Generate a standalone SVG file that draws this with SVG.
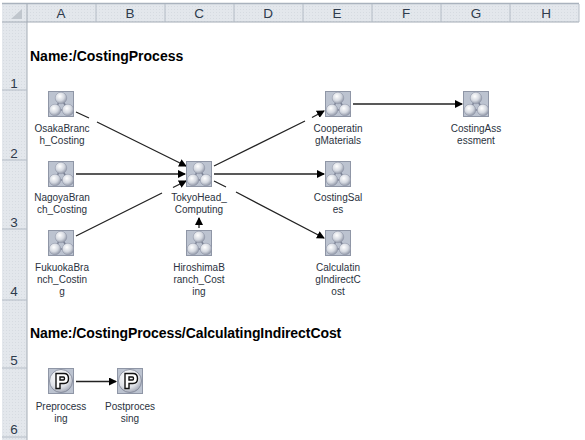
<svg xmlns="http://www.w3.org/2000/svg" width="585" height="440" viewBox="0 0 585 440">
<style>
text{font-family:"Liberation Sans",Arial,sans-serif}
.h{font-size:13.5px;fill:#2e3b4c;text-anchor:middle}
.l{font-size:10px;fill:#2a3240;text-anchor:middle}
.t{font-size:14px;font-weight:bold;fill:#000}
.c{stroke:#222;stroke-width:1.3;fill:none}
.g{stroke:#b4bcc6;stroke-width:1;fill:none}
</style>
<defs>
<radialGradient id="ball" cx="0.4" cy="0.35" r="0.7"><stop offset="0" stop-color="#fff"/><stop offset="0.55" stop-color="#d4d8e0"/><stop offset="1" stop-color="#868d9e"/></radialGradient>
<radialGradient id="disc" cx="0.4" cy="0.3" r="0.8"><stop offset="0" stop-color="#fff"/><stop offset="0.6" stop-color="#dfe2e8"/><stop offset="1" stop-color="#8f95a5"/></radialGradient>
<pattern id="hatch" width="3" height="3" patternUnits="userSpaceOnUse"><rect width="3" height="3" fill="#e3e7ec"/><rect width="1" height="1" fill="#d6dbe1"/></pattern>
<marker id="arr" markerWidth="8" markerHeight="8" refX="7" refY="4" orient="auto" markerUnits="userSpaceOnUse"><path d="M0 0L8 4L0 8Z" fill="#000"/></marker>
<symbol id="proc" width="26" height="26" viewBox="0 0 26 26">
<rect x="0.5" y="0.5" width="25" height="25" fill="#bcc3d0" stroke="#8f96a6"/>
<path d="M13 7L7 19H20Z" fill="none" stroke="#7d8496" stroke-width="1.6"/>
<circle cx="13" cy="7" r="5.8" fill="url(#ball)" stroke="#8c93a4" stroke-width="0.5"/>
<circle cx="7" cy="19" r="5.8" fill="url(#ball)" stroke="#8c93a4" stroke-width="0.5"/>
<circle cx="20" cy="19" r="5.8" fill="url(#ball)" stroke="#8c93a4" stroke-width="0.5"/>
</symbol>
<symbol id="pnode" width="26" height="26" viewBox="0 0 26 26">
<rect x="0.5" y="0.5" width="25" height="25" fill="#bcc3d0" stroke="#8f96a6"/>
<circle cx="13" cy="13" r="11.5" fill="url(#disc)" stroke="#7d8496" stroke-width="0.8"/>
<path d="M8 5.500H16Q20.500 5.500 20.500 10.500Q20.500 15.500 16 15.500H12V20.500H8Z M12 9V12H15.500Q16.500 12 16.500 10.500Q16.500 9 15.500 9Z" fill="#fff" fill-rule="evenodd" stroke="#111" stroke-width="1.4"/>
</symbol>
</defs>
<rect width="585" height="440" fill="#fff"/>
<g id="sheet-frame">
<rect x="2" y="4" width="577" height="18" fill="url(#hatch)"/>
<rect x="2" y="22" width="25" height="418" fill="url(#hatch)"/>
<path d="M2 3.500H579" stroke="#a9b2bd" stroke-width="1.5"/>
<path d="M2 22H579" stroke="#a3abb5"/>
<path d="M27 4V440" stroke="#a3abb5"/>
<path d="M22 19H11L22 9Z" fill="#c0c6cd"/>
<path class="g" d="M96 4V22M165 4V22M234 4V22M303 4V22M372 4V22M441 4V22M510 4V22M579 4V22"/>
<path class="g" d="M2 90H27M2 160H27M2 229H27M2 300H27M2 368H27M2 437H27"/>
<text class="h" x="61" y="18">A</text><text class="h" x="130" y="18">B</text><text class="h" x="199" y="18">C</text><text class="h" x="268" y="18">D</text><text class="h" x="337" y="18">E</text><text class="h" x="406" y="18">F</text><text class="h" x="476" y="18">G</text><text class="h" x="546" y="18">H</text>
<text class="h" x="14" y="88">1</text><text class="h" x="14" y="158">2</text><text class="h" x="14" y="227">3</text><text class="h" x="14" y="296">4</text><text class="h" x="14" y="365">5</text><text class="h" x="14" y="434">6</text>
</g>
<g id="titles">
<text class="t" x="30" y="61">Name:/CostingProcess</text>
<text class="t" x="30" y="338" letter-spacing="-0.07">Name:/CostingProcess/CalculatingIndirectCost</text>
</g>
<g id="connectors">
<path class="c" d="M76 112L89 118M97 122L186 166" marker-end="url(#arr)"/>
<path class="c" d="M76 174H185" marker-end="url(#arr)"/>
<path class="c" d="M76 236L162 193M173 187.500L186 181" marker-end="url(#arr)"/>
<path class="c" d="M199 228V218" marker-end="url(#arr)"/>
<path class="c" d="M214 166L305 121M312 117.500L324 111" marker-end="url(#arr)"/>
<path class="c" d="M214 174H324" marker-end="url(#arr)"/>
<path class="c" d="M214 181L226 187M236 192L324 238" marker-end="url(#arr)"/>
<path class="c" d="M353 104H462" marker-end="url(#arr)"/>
<path class="c" d="M76 381.500H116" marker-end="url(#arr)"/>
</g>
<g id="OsakaBranch_Costing"><use href="#proc" x="48" y="91"/><text class="l" x="62" y="132">OsakaBranc</text><text class="l" x="62" y="144">h_Costing</text></g>
<g id="NagoyaBranch_Costing"><use href="#proc" x="48" y="161"/><text class="l" x="62" y="201">NagoyaBran</text><text class="l" x="62" y="213">ch_Costing</text></g>
<g id="FukuokaBranch_Costing"><use href="#proc" x="48" y="230"/><text class="l" x="62" y="271">FukuokaBra</text><text class="l" x="62" y="283">nch_Costin</text><text class="l" x="62" y="295">g</text></g>
<g id="TokyoHead_Computing"><use href="#proc" x="186" y="161"/><text class="l" x="199" y="201">TokyoHead_</text><text class="l" x="199" y="213">Computing</text></g>
<g id="HiroshimaBranch_Costing"><use href="#proc" x="186" y="230"/><text class="l" x="199" y="271">HiroshimaB</text><text class="l" x="199" y="283">ranch_Cost</text><text class="l" x="199" y="295">ing</text></g>
<g id="CooperatingMaterials"><use href="#proc" x="325" y="91"/><text class="l" x="338" y="132">Cooperatin</text><text class="l" x="338" y="144">gMaterials</text></g>
<g id="CostingSales"><use href="#proc" x="325" y="161"/><text class="l" x="338" y="201">CostingSal</text><text class="l" x="338" y="213">es</text></g>
<g id="CalculatingIndirectCost"><use href="#proc" x="325" y="230"/><text class="l" x="338" y="271">Calculatin</text><text class="l" x="338" y="283">gIndirectC</text><text class="l" x="338" y="295">ost</text></g>
<g id="CostingAssessment"><use href="#proc" x="463" y="91"/><text class="l" x="476" y="132">CostingAss</text><text class="l" x="476" y="144">essment</text></g>
<g id="Preprocessing"><use href="#pnode" x="48" y="368"/><text class="l" x="61" y="410">Preprocess</text><text class="l" x="61" y="422">ing</text></g>
<g id="Postprocessing"><use href="#pnode" x="117" y="368"/><text class="l" x="130" y="410">Postproces</text><text class="l" x="130" y="422">sing</text></g>
</svg>
